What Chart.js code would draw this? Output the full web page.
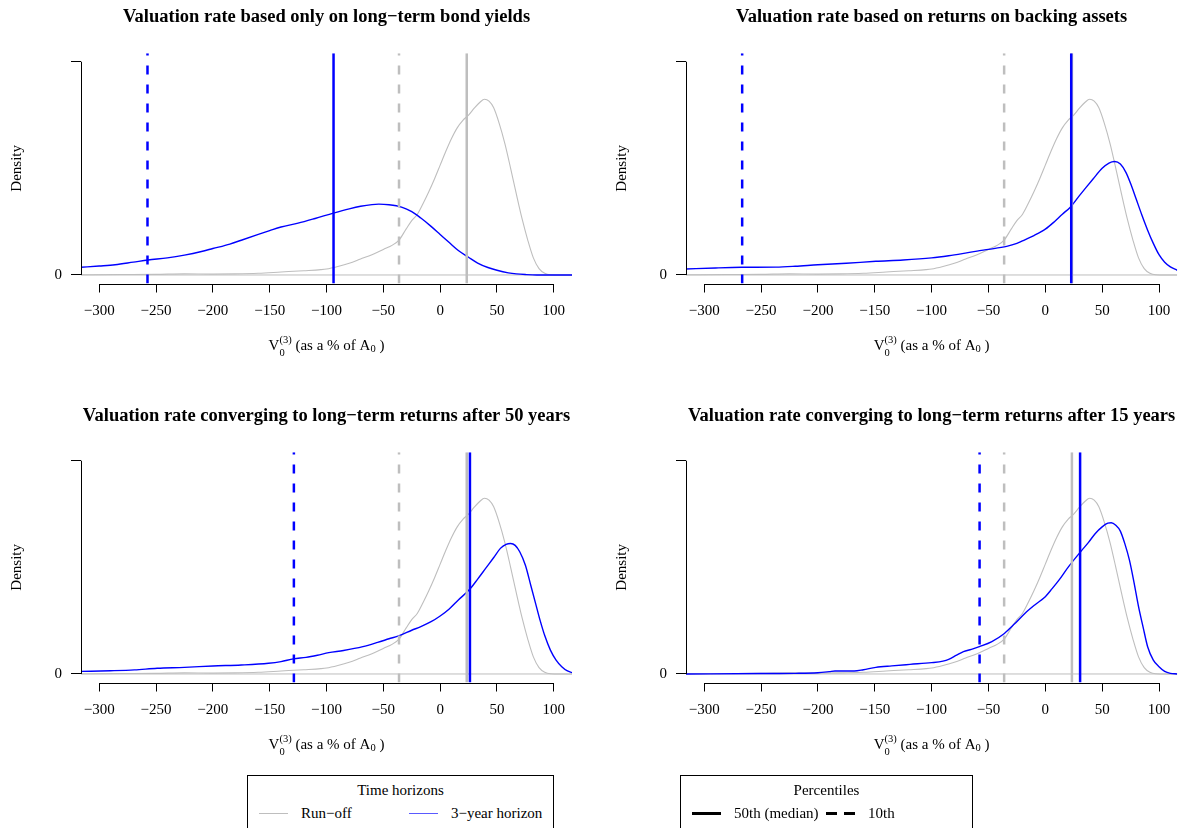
<!DOCTYPE html>
<html>
<head>
<meta charset="utf-8">
<script src="https://cdn.jsdelivr.net/npm/chart.js@4.4.0/dist/chart.umd.min.js"></script>
<style>
  body { margin: 0; background: #fff; width: 1185px; height: 828px; overflow: hidden; position: relative; font-family: "Liberation Serif", "Times New Roman", serif; color: #000; }
  canvas.panel { position: absolute; }
  .legend { position: absolute; top: 775px; height: 70px; border: 1px solid #000; box-sizing: border-box; background: #fff; font-size: 15px; }
  .legend-title { position: absolute; top: 5px; left: 0; width: 100%; text-align: center; line-height: 18px; }
  .legend-key { position: absolute; top: 36px; width: 29px; }
  .legend-label { position: absolute; top: 28px; line-height: 18px; white-space: nowrap; }
</style>
</head>
<body>
<canvas id="panelBonds" class="panel" style="left:0px;top:0px" width="592" height="399"></canvas>
<canvas id="panelBacking" class="panel" style="left:605px;top:0px" width="580" height="399"></canvas>
<canvas id="panelConv50" class="panel" style="left:0px;top:399px" width="592" height="399"></canvas>
<canvas id="panelConv15" class="panel" style="left:605px;top:399px" width="580" height="399"></canvas>
<div id="legendHorizons" class="legend" style="left:247px;width:307px"></div>
<div id="legendPercentiles" class="legend" style="left:680px;width:293px"></div>

<script>
// Axis setup (R-like: xlim -300..100 padded by 4%)
const xTicks = [-300, -250, -200, -150, -100, -50, 0, 50, 100];
const xMin = -316;
const xMax = 116;
const densityTop = 1;   // top y tick (unlabelled in the original)

// Run-off density (same in every panel)
const runoffX = [-316, -280, -250, -225, -200, -180, -160, -140, -120, -105, -100, -90, -80, -70, -60, -50, -42, -36, -30, -25, -20, -15, -10, -5, 0, 5, 10, 15, 20, 25, 30, 35, 39, 43, 47, 52, 57, 62, 67, 72, 77, 82, 87, 92, 97, 105, 116];
const runoffY = [0.001, 0.002, 0.003, 0.005, 0.004, 0.005, 0.008, 0.014, 0.02, 0.025, 0.028, 0.04, 0.055, 0.075, 0.095, 0.12, 0.14, 0.165, 0.215, 0.255, 0.285, 0.335, 0.39, 0.45, 0.515, 0.58, 0.64, 0.69, 0.725, 0.75, 0.782, 0.81, 0.824, 0.815, 0.785, 0.71, 0.615, 0.5, 0.38, 0.265, 0.165, 0.08, 0.03, 0.008, 0.001, 0, 0];

// 3-year horizon densities, one per panel
const bondsX = [-316, -300, -286, -270, -257, -240, -225, -210, -200, -185, -175, -160, -150, -140, -125, -110, -94, -80, -70, -60, -54, -45, -34, -25, -17, -8, 0, 8, 16, 25, 33, 42, 50, 60, 67, 75, 85, 116];
const bondsY = [0.036, 0.042, 0.048, 0.06, 0.07, 0.08, 0.093, 0.11, 0.124, 0.145, 0.163, 0.19, 0.208, 0.225, 0.243, 0.265, 0.29, 0.31, 0.322, 0.33, 0.332, 0.329, 0.318, 0.297, 0.267, 0.228, 0.19, 0.152, 0.115, 0.083, 0.056, 0.035, 0.022, 0.01, 0.005, 0.002, 0, 0];

const backingX = [-316, -290, -267, -237, -220, -200, -175, -149, -125, -100, -85, -73, -60, -50, -34, -25, -18, -10, 0, 8, 15, 22, 30, 35, 42, 50, 56, 61, 66, 71, 76, 80, 85, 90, 95, 100, 105, 110, 116];
const backingY = [0.028, 0.033, 0.036, 0.037, 0.041, 0.048, 0.055, 0.064, 0.07, 0.08, 0.09, 0.1, 0.112, 0.12, 0.134, 0.148, 0.165, 0.185, 0.215, 0.25, 0.285, 0.318, 0.372, 0.405, 0.45, 0.5, 0.525, 0.532, 0.52, 0.48, 0.415, 0.355, 0.28, 0.21, 0.148, 0.095, 0.06, 0.038, 0.022];

const conv50X = [-316, -290, -269, -249, -225, -200, -175, -151, -140, -129, -118, -108, -98, -85, -68, -55, -45, -36, -25, -17, -8, 0, 8, 16, 26, 33, 40, 47, 53, 58, 62, 66, 70, 75, 80, 84, 88, 92, 97, 102, 107, 112, 116];
const conv50Y = [0.012, 0.015, 0.019, 0.027, 0.031, 0.0375, 0.042, 0.05, 0.058, 0.071, 0.078, 0.088, 0.1, 0.11, 0.128, 0.148, 0.165, 0.18, 0.205, 0.222, 0.245, 0.272, 0.305, 0.347, 0.397, 0.445, 0.495, 0.545, 0.589, 0.608, 0.612, 0.603, 0.573, 0.51, 0.41, 0.33, 0.25, 0.18, 0.112, 0.065, 0.034, 0.014, 0.006];

const conv15X = [-316, -250, -220, -200, -190, -185, -168, -160, -149, -135, -119, -100, -90, -85, -78, -72, -65, -58, -47, -36, -27, -18, -9, 0, 6, 12, 20, 31, 38, 44, 50, 55, 58, 62, 66, 70, 74, 78, 82, 86, 90, 95, 100, 105, 110, 116];
const conv15Y = [0, 0.002, 0.003, 0.006, 0.011, 0.014, 0.014, 0.02, 0.031, 0.038, 0.045, 0.053, 0.06, 0.068, 0.088, 0.105, 0.115, 0.128, 0.152, 0.19, 0.235, 0.284, 0.325, 0.3625, 0.4, 0.44, 0.5, 0.573, 0.617, 0.659, 0.69, 0.707, 0.709, 0.697, 0.67, 0.61, 0.534, 0.43, 0.316, 0.22, 0.128, 0.065, 0.034, 0.012, 0.003, 0];

// Percentile markers
const runoffMedian = 23.4;
const runoffP10 = -36.2;
const horizonMedians = [-93.8, 22.8, 26.2, 30.6];
const horizonP10s = [-257.5, -266.6, -128.7, -57.8];

const panelTitles = [
  'Valuation rate based only on long\u2212term bond yields',
  'Valuation rate based on returns on backing assets',
  'Valuation rate converging to long\u2212term returns after 50 years',
  'Valuation rate converging to long\u2212term returns after 15 years'
];
const seriesNames = ['Run\u2212off', '3\u2212year horizon'];
const percentileNames = ['50th (median)', '10th'];

const GREY = '#BEBEBE';
const BLUE = '#0000FF';
const FONT = '"Liberation Serif", "Times New Roman", serif';

function toPoints(xs, ys) {
  return xs.map((x, i) => ({ x: x, y: ys[i] }));
}

function vline(x) {
  return [{ x: x, y: -0.04 * densityTop }, { x: x, y: 1.04 * densityTop }];
}

// V_0^(3) (as a % of A_0 )
function drawXLabel(ctx, cx, y) {
  const big = '15px ' + FONT;
  const small = '10.5px ' + FONT;
  ctx.font = big;
  const wV = ctx.measureText('V').width;
  const wMid = ctx.measureText(' (as a % of A').width;
  const wEnd = ctx.measureText(' )').width;
  ctx.font = small;
  const wSup = ctx.measureText('(3)').width;
  const wSub = ctx.measureText('0').width;
  const wStack = Math.max(wSup, wSub);
  let x = cx - (wV + wStack + wMid + wSub + wEnd) / 2;
  ctx.textAlign = 'left';
  ctx.textBaseline = 'alphabetic';
  ctx.font = big; ctx.fillText('V', x, y); x += wV;
  ctx.font = small; ctx.fillText('(3)', x, y - 7); ctx.fillText('0', x, y + 6.5); x += wStack;
  ctx.font = big; ctx.fillText(' (as a % of A', x, y); x += wMid;
  ctx.font = small; ctx.fillText('0', x, y + 2.5); x += wSub;
  ctx.font = big; ctx.fillText(' )', x, y);
}

// R-style axis lines, panel title and x label
const rStylePlugin = {
  id: 'rStyle',
  afterDraw(chart, args, opts) {
    const ctx = chart.ctx;
    const area = chart.chartArea;
    const xs = chart.scales.x;
    const ys = chart.scales.y;
    ctx.save();
    ctx.strokeStyle = '#000';
    ctx.lineWidth = 1;
    const yb = Math.round(area.bottom) + 0.5;
    ctx.beginPath();
    ctx.moveTo(xs.getPixelForValue(xTicks[0]), yb);
    ctx.lineTo(xs.getPixelForValue(xTicks[xTicks.length - 1]), yb);
    ctx.stroke();
    const xl = Math.round(area.left) + 0.5;
    ctx.beginPath();
    ctx.moveTo(xl, ys.getPixelForValue(0));
    ctx.lineTo(xl, ys.getPixelForValue(densityTop));
    ctx.stroke();

    const cx = (area.left + area.right) / 2;
    ctx.fillStyle = '#000';
    ctx.font = 'bold 18.5px ' + FONT;
    ctx.textAlign = 'center';
    ctx.textBaseline = 'alphabetic';
    ctx.fillText(opts.title, cx, area.top - 31.5);
    drawXLabel(ctx, cx, area.bottom + 66);
    ctx.restore();
  }
};

function makePanel(canvasId, title, blueX, blueY, blueMedian, blueP10, rightPad) {
  const ctx = document.getElementById(canvasId).getContext('2d');
  return new Chart(ctx, {
    type: 'line',
    data: {
      datasets: [
        { data: [{ x: xMin, y: 0 }, { x: xMax, y: 0 }], borderColor: GREY, borderWidth: 1, order: 6 },
        { data: toPoints(runoffX, runoffY), borderColor: GREY, borderWidth: 1.1, cubicInterpolationMode: 'monotone', order: 5 },
        { data: toPoints(blueX, blueY), borderColor: BLUE, borderWidth: 1.4, cubicInterpolationMode: 'monotone', order: 4 },
        { data: vline(runoffMedian), borderColor: GREY, borderWidth: 2.5, order: 3 },
        { data: vline(runoffP10), borderColor: GREY, borderWidth: 2.5, borderDash: [9, 10], order: 3 },
        { data: vline(blueMedian), borderColor: BLUE, borderWidth: 2.5, order: 1 },
        { data: vline(blueP10), borderColor: BLUE, borderWidth: 2.5, borderDash: [9, 10], order: 1 }
      ]
    },
    options: {
      responsive: false,
      animation: false,
      devicePixelRatio: 1,
      events: [],
      clip: 0,
      layout: { padding: { top: 53.2, left: 0, right: rightPad, bottom: 0 } },
      elements: { point: { radius: 0 }, line: { fill: false, tension: 0 } },
      scales: {
        x: {
          type: 'linear',
          min: xMin,
          max: xMax,
          afterBuildTicks: (axis) => { axis.ticks = xTicks.map(v => ({ value: v })); },
          afterFit: (axis) => { axis.height = 115.5; },
          border: { display: false },
          grid: { drawOnChartArea: false, drawTicks: true, tickLength: 9, color: '#000', lineWidth: 1 },
          ticks: {
            autoSkip: false, maxRotation: 0, padding: 10, color: '#000',
            font: { family: FONT, size: 15 },
            callback: (v) => String(v).replace('-', '\u2212')
          }
        },
        y: {
          type: 'linear',
          min: -0.04 * densityTop,
          max: 1.04 * densityTop,
          afterBuildTicks: (axis) => { axis.ticks = [{ value: 0 }, { value: densityTop }]; },
          afterFit: (axis) => { axis.width = 81; },
          border: { display: false },
          grid: { drawOnChartArea: false, drawTicks: true, tickLength: 10, color: '#000', lineWidth: 1 },
          ticks: {
            padding: 9, color: '#000',
            font: { family: FONT, size: 15 },
            callback: (v) => (v === 0 ? '0' : '')
          },
          title: { display: true, text: 'Density', color: '#000', font: { family: FONT, size: 15 }, padding: { top: 8, bottom: 0 } }
        }
      },
      plugins: {
        legend: { display: false },
        tooltip: { enabled: false },
        rStyle: { title: title }
      }
    },
    plugins: [rStylePlugin]
  });
}

makePanel('panelBonds', panelTitles[0], bondsX, bondsY, horizonMedians[0], horizonP10s[0], 20);
makePanel('panelBacking', panelTitles[1], backingX, backingY, horizonMedians[1], horizonP10s[1], 7.8);
makePanel('panelConv50', panelTitles[2], conv50X, conv50Y, horizonMedians[2], horizonP10s[2], 20);
makePanel('panelConv15', panelTitles[3], conv15X, conv15Y, horizonMedians[3], horizonP10s[3], 7.8);

// Shared legends under the panels
function buildLegend(boxId, heading, names, keyStyles, colOffset) {
  const box = document.getElementById(boxId);
  const head = document.createElement('div');
  head.className = 'legend-title';
  head.textContent = heading;
  box.appendChild(head);
  names.forEach((name, i) => {
    const key = document.createElement('span');
    key.className = 'legend-key';
    key.style.left = (11 + i * colOffset) + 'px';
    Object.assign(key.style, keyStyles[i]);
    box.appendChild(key);
    const label = document.createElement('span');
    label.className = 'legend-label';
    label.style.left = (53 + i * colOffset) + 'px';
    label.textContent = name;
    box.appendChild(label);
  });
}

buildLegend('legendHorizons', 'Time horizons', seriesNames, [
  { height: '1px', background: GREY, marginTop: '1px' },
  { height: '1px', background: '#5A5AFF', marginTop: '1px' }
], 150);
buildLegend('legendPercentiles', 'Percentiles', percentileNames, [
  { height: '2.5px', background: '#000' },
  { height: '2.5px', background: 'linear-gradient(to right, #000 0 11px, transparent 11px 18px, #000 18px 29px)' }
], 134);
</script>
</body>
</html>
